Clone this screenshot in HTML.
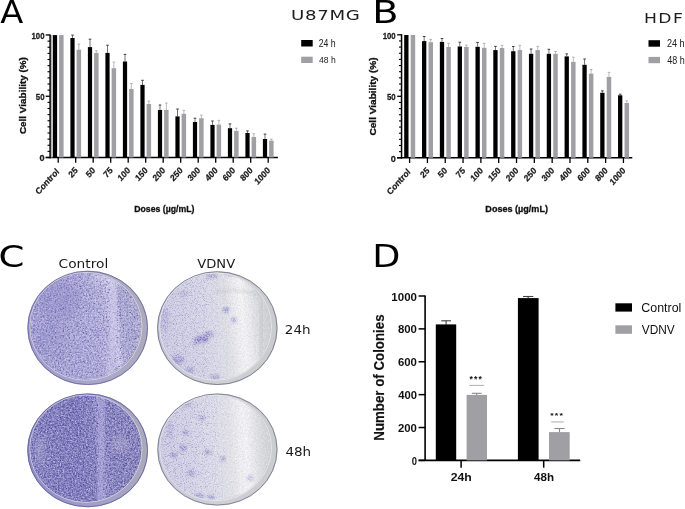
<!DOCTYPE html>
<html><head><meta charset="utf-8"><title>Figure</title>
<style>
html,body{margin:0;padding:0;background:#fff;}
body{width:685px;height:509px;overflow:hidden;}
svg{display:block;}
.xl{font-family:"Liberation Sans", Arial, sans-serif;font-size:9.2px;font-weight:bold;fill:#1a1a1a;stroke:#1a1a1a;stroke-width:0.25px;}
.tl{font-family:"Liberation Sans", Arial, sans-serif;font-size:8.6px;font-weight:bold;fill:#1a1a1a;}
.yt{font-family:"Liberation Sans", Arial, sans-serif;font-size:9.8px;font-weight:bold;fill:#111;}
.xt{font-family:"Liberation Sans", Arial, sans-serif;font-size:8.7px;font-weight:bold;fill:#111;}
.ttl{font-family:"DejaVu Sans", Verdana, sans-serif;font-size:14.5px;fill:#222;letter-spacing:1.6px;}
.lg{font-family:"Liberation Sans", Arial, sans-serif;font-size:8.6px;fill:#222;}
.pl{font-family:"Liberation Sans", Arial, sans-serif;font-size:32.5px;fill:#000;}
.cl{font-family:"DejaVu Sans", Verdana, sans-serif;font-size:12.6px;fill:#222;}
.dt{font-family:"Liberation Sans", Arial, sans-serif;font-size:11.4px;font-weight:bold;fill:#111;}
.dy{font-family:"Liberation Sans", Arial, sans-serif;font-size:13px;font-weight:bold;fill:#111;}
.ast{font-family:"Liberation Sans", Arial, sans-serif;font-size:9px;font-weight:bold;fill:#111;letter-spacing:0.2px;}
.dl{font-family:"Liberation Sans", Arial, sans-serif;font-size:12.4px;fill:#111;}
</style></head><body>
<svg width="685" height="509" viewBox="0 0 685 509">

<line x1="50.1" y1="34.4" x2="50.1" y2="158.2" stroke="#000" stroke-width="1.5"/>
<line x1="45.7" y1="157.5" x2="50.1" y2="157.5" stroke="#000" stroke-width="1.3"/>
<line x1="47.5" y1="151.38" x2="50.1" y2="151.38" stroke="#000" stroke-width="1.1"/>
<line x1="47.5" y1="145.25" x2="50.1" y2="145.25" stroke="#000" stroke-width="1.1"/>
<line x1="47.5" y1="139.12" x2="50.1" y2="139.12" stroke="#000" stroke-width="1.1"/>
<line x1="47.5" y1="133" x2="50.1" y2="133" stroke="#000" stroke-width="1.1"/>
<line x1="47.5" y1="126.88" x2="50.1" y2="126.88" stroke="#000" stroke-width="1.1"/>
<line x1="47.5" y1="120.75" x2="50.1" y2="120.75" stroke="#000" stroke-width="1.1"/>
<line x1="47.5" y1="114.62" x2="50.1" y2="114.62" stroke="#000" stroke-width="1.1"/>
<line x1="47.5" y1="108.5" x2="50.1" y2="108.5" stroke="#000" stroke-width="1.1"/>
<line x1="47.5" y1="102.38" x2="50.1" y2="102.38" stroke="#000" stroke-width="1.1"/>
<line x1="45.7" y1="96.25" x2="50.1" y2="96.25" stroke="#000" stroke-width="1.3"/>
<line x1="47.5" y1="90.12" x2="50.1" y2="90.12" stroke="#000" stroke-width="1.1"/>
<line x1="47.5" y1="84" x2="50.1" y2="84" stroke="#000" stroke-width="1.1"/>
<line x1="47.5" y1="77.88" x2="50.1" y2="77.88" stroke="#000" stroke-width="1.1"/>
<line x1="47.5" y1="71.75" x2="50.1" y2="71.75" stroke="#000" stroke-width="1.1"/>
<line x1="47.5" y1="65.62" x2="50.1" y2="65.62" stroke="#000" stroke-width="1.1"/>
<line x1="47.5" y1="59.5" x2="50.1" y2="59.5" stroke="#000" stroke-width="1.1"/>
<line x1="47.5" y1="53.37" x2="50.1" y2="53.37" stroke="#000" stroke-width="1.1"/>
<line x1="47.5" y1="47.25" x2="50.1" y2="47.25" stroke="#000" stroke-width="1.1"/>
<line x1="47.5" y1="41.12" x2="50.1" y2="41.12" stroke="#000" stroke-width="1.1"/>
<line x1="45.7" y1="35" x2="50.1" y2="35" stroke="#000" stroke-width="1.3"/>
<line x1="45.7" y1="157.5" x2="277.9" y2="157.5" stroke="#000" stroke-width="1.5"/>
<rect x="52.9" y="35.1" width="4.2" height="122.4" fill="#000"/>
<rect x="59.1" y="35.1" width="4.5" height="122.4" fill="#a09fa4"/>
<line x1="58.2" y1="157.5" x2="58.2" y2="162.7" stroke="#000" stroke-width="1.3"/>
<text transform="translate(59.6 172.1) scale(0.9 1) rotate(-45)" text-anchor="end" class="xl">Control</text>
<line x1="72.5" y1="35.1" x2="72.5" y2="38" stroke="#3a3a3a" stroke-width="0.7"/>
<line x1="71.2" y1="35.1" x2="73.8" y2="35.1" stroke="#2a2a2a" stroke-width="0.9"/>
<line x1="78.85" y1="44.2" x2="78.85" y2="49.7" stroke="#aaa" stroke-width="0.8"/>
<line x1="77.55" y1="44.2" x2="80.15" y2="44.2" stroke="#aaa" stroke-width="0.9"/>
<rect x="70.4" y="38" width="4.2" height="119.5" fill="#000"/>
<rect x="76.6" y="49.7" width="4.5" height="107.8" fill="#a09fa4"/>
<line x1="75.7" y1="157.5" x2="75.7" y2="162.7" stroke="#000" stroke-width="1.3"/>
<text transform="translate(78.3 170.9) scale(0.9 1) rotate(-45)" text-anchor="end" class="xl">25</text>
<line x1="90" y1="39.2" x2="90" y2="47.1" stroke="#3a3a3a" stroke-width="0.7"/>
<line x1="88.7" y1="39.2" x2="91.3" y2="39.2" stroke="#2a2a2a" stroke-width="0.9"/>
<line x1="96.35" y1="50.7" x2="96.35" y2="52.9" stroke="#aaa" stroke-width="0.8"/>
<line x1="95.05" y1="50.7" x2="97.65" y2="50.7" stroke="#aaa" stroke-width="0.9"/>
<rect x="87.9" y="47.1" width="4.2" height="110.4" fill="#000"/>
<rect x="94.1" y="52.9" width="4.5" height="104.6" fill="#a09fa4"/>
<line x1="93.2" y1="157.5" x2="93.2" y2="162.7" stroke="#000" stroke-width="1.3"/>
<text transform="translate(95.8 170.9) scale(0.9 1) rotate(-45)" text-anchor="end" class="xl">50</text>
<line x1="107.5" y1="45.2" x2="107.5" y2="52.9" stroke="#3a3a3a" stroke-width="0.7"/>
<line x1="106.2" y1="45.2" x2="108.8" y2="45.2" stroke="#2a2a2a" stroke-width="0.9"/>
<line x1="113.85" y1="62.1" x2="113.85" y2="68.2" stroke="#aaa" stroke-width="0.8"/>
<line x1="112.55" y1="62.1" x2="115.15" y2="62.1" stroke="#aaa" stroke-width="0.9"/>
<rect x="105.4" y="52.9" width="4.2" height="104.6" fill="#000"/>
<rect x="111.6" y="68.2" width="4.5" height="89.3" fill="#a09fa4"/>
<line x1="110.7" y1="157.5" x2="110.7" y2="162.7" stroke="#000" stroke-width="1.3"/>
<text transform="translate(113.3 170.9) scale(0.9 1) rotate(-45)" text-anchor="end" class="xl">75</text>
<line x1="125" y1="54.4" x2="125" y2="61.5" stroke="#3a3a3a" stroke-width="0.7"/>
<line x1="123.7" y1="54.4" x2="126.3" y2="54.4" stroke="#2a2a2a" stroke-width="0.9"/>
<line x1="131.35" y1="83.5" x2="131.35" y2="89" stroke="#aaa" stroke-width="0.8"/>
<line x1="130.05" y1="83.5" x2="132.65" y2="83.5" stroke="#aaa" stroke-width="0.9"/>
<rect x="122.9" y="61.5" width="4.2" height="96" fill="#000"/>
<rect x="129.1" y="89" width="4.5" height="68.5" fill="#a09fa4"/>
<line x1="128.2" y1="157.5" x2="128.2" y2="162.7" stroke="#000" stroke-width="1.3"/>
<text transform="translate(130.8 170.9) scale(0.9 1) rotate(-45)" text-anchor="end" class="xl">100</text>
<line x1="142.5" y1="80.3" x2="142.5" y2="84.9" stroke="#3a3a3a" stroke-width="0.7"/>
<line x1="141.2" y1="80.3" x2="143.8" y2="80.3" stroke="#2a2a2a" stroke-width="0.9"/>
<line x1="148.85" y1="101.1" x2="148.85" y2="104" stroke="#aaa" stroke-width="0.8"/>
<line x1="147.55" y1="101.1" x2="150.15" y2="101.1" stroke="#aaa" stroke-width="0.9"/>
<rect x="140.4" y="84.9" width="4.2" height="72.6" fill="#000"/>
<rect x="146.6" y="104" width="4.5" height="53.5" fill="#a09fa4"/>
<line x1="145.7" y1="157.5" x2="145.7" y2="162.7" stroke="#000" stroke-width="1.3"/>
<text transform="translate(148.3 170.9) scale(0.9 1) rotate(-45)" text-anchor="end" class="xl">150</text>
<line x1="160" y1="105" x2="160" y2="110" stroke="#3a3a3a" stroke-width="0.7"/>
<line x1="158.7" y1="105" x2="161.3" y2="105" stroke="#2a2a2a" stroke-width="0.9"/>
<line x1="166.35" y1="103.1" x2="166.35" y2="110" stroke="#aaa" stroke-width="0.8"/>
<line x1="165.05" y1="103.1" x2="167.65" y2="103.1" stroke="#aaa" stroke-width="0.9"/>
<rect x="157.9" y="110" width="4.2" height="47.5" fill="#000"/>
<rect x="164.1" y="110" width="4.5" height="47.5" fill="#a09fa4"/>
<line x1="163.2" y1="157.5" x2="163.2" y2="162.7" stroke="#000" stroke-width="1.3"/>
<text transform="translate(165.8 170.9) scale(0.9 1) rotate(-45)" text-anchor="end" class="xl">200</text>
<line x1="177.5" y1="109" x2="177.5" y2="116.4" stroke="#3a3a3a" stroke-width="0.7"/>
<line x1="176.2" y1="109" x2="178.8" y2="109" stroke="#2a2a2a" stroke-width="0.9"/>
<line x1="183.85" y1="110.4" x2="183.85" y2="113.8" stroke="#aaa" stroke-width="0.8"/>
<line x1="182.55" y1="110.4" x2="185.15" y2="110.4" stroke="#aaa" stroke-width="0.9"/>
<rect x="175.4" y="116.4" width="4.2" height="41.1" fill="#000"/>
<rect x="181.6" y="113.8" width="4.5" height="43.7" fill="#a09fa4"/>
<line x1="180.7" y1="157.5" x2="180.7" y2="162.7" stroke="#000" stroke-width="1.3"/>
<text transform="translate(183.3 170.9) scale(0.9 1) rotate(-45)" text-anchor="end" class="xl">250</text>
<line x1="195" y1="118.2" x2="195" y2="122" stroke="#3a3a3a" stroke-width="0.7"/>
<line x1="193.7" y1="118.2" x2="196.3" y2="118.2" stroke="#2a2a2a" stroke-width="0.9"/>
<line x1="201.35" y1="115.1" x2="201.35" y2="118.2" stroke="#aaa" stroke-width="0.8"/>
<line x1="200.05" y1="115.1" x2="202.65" y2="115.1" stroke="#aaa" stroke-width="0.9"/>
<rect x="192.9" y="122" width="4.2" height="35.5" fill="#000"/>
<rect x="199.1" y="118.2" width="4.5" height="39.3" fill="#a09fa4"/>
<line x1="198.2" y1="157.5" x2="198.2" y2="162.7" stroke="#000" stroke-width="1.3"/>
<text transform="translate(200.8 170.9) scale(0.9 1) rotate(-45)" text-anchor="end" class="xl">300</text>
<line x1="212.5" y1="121" x2="212.5" y2="124.9" stroke="#3a3a3a" stroke-width="0.7"/>
<line x1="211.2" y1="121" x2="213.8" y2="121" stroke="#2a2a2a" stroke-width="0.9"/>
<line x1="218.85" y1="120.4" x2="218.85" y2="124.6" stroke="#aaa" stroke-width="0.8"/>
<line x1="217.55" y1="120.4" x2="220.15" y2="120.4" stroke="#aaa" stroke-width="0.9"/>
<rect x="210.4" y="124.9" width="4.2" height="32.6" fill="#000"/>
<rect x="216.6" y="124.6" width="4.5" height="32.9" fill="#a09fa4"/>
<line x1="215.7" y1="157.5" x2="215.7" y2="162.7" stroke="#000" stroke-width="1.3"/>
<text transform="translate(218.3 170.9) scale(0.9 1) rotate(-45)" text-anchor="end" class="xl">400</text>
<line x1="230" y1="123.9" x2="230" y2="128.2" stroke="#3a3a3a" stroke-width="0.7"/>
<line x1="228.7" y1="123.9" x2="231.3" y2="123.9" stroke="#2a2a2a" stroke-width="0.9"/>
<line x1="236.35" y1="128.2" x2="236.35" y2="130.9" stroke="#aaa" stroke-width="0.8"/>
<line x1="235.05" y1="128.2" x2="237.65" y2="128.2" stroke="#aaa" stroke-width="0.9"/>
<rect x="227.9" y="128.2" width="4.2" height="29.3" fill="#000"/>
<rect x="234.1" y="130.9" width="4.5" height="26.6" fill="#a09fa4"/>
<line x1="233.2" y1="157.5" x2="233.2" y2="162.7" stroke="#000" stroke-width="1.3"/>
<text transform="translate(235.8 170.9) scale(0.9 1) rotate(-45)" text-anchor="end" class="xl">600</text>
<line x1="247.5" y1="130.9" x2="247.5" y2="133" stroke="#3a3a3a" stroke-width="0.7"/>
<line x1="246.2" y1="130.9" x2="248.8" y2="130.9" stroke="#2a2a2a" stroke-width="0.9"/>
<line x1="253.85" y1="133.8" x2="253.85" y2="137" stroke="#aaa" stroke-width="0.8"/>
<line x1="252.55" y1="133.8" x2="255.15" y2="133.8" stroke="#aaa" stroke-width="0.9"/>
<rect x="245.4" y="133" width="4.2" height="24.5" fill="#000"/>
<rect x="251.6" y="137" width="4.5" height="20.5" fill="#a09fa4"/>
<line x1="250.7" y1="157.5" x2="250.7" y2="162.7" stroke="#000" stroke-width="1.3"/>
<text transform="translate(253.3 170.9) scale(0.9 1) rotate(-45)" text-anchor="end" class="xl">800</text>
<line x1="265" y1="134.1" x2="265" y2="139" stroke="#3a3a3a" stroke-width="0.7"/>
<line x1="263.7" y1="134.1" x2="266.3" y2="134.1" stroke="#2a2a2a" stroke-width="0.9"/>
<line x1="271.35" y1="139.2" x2="271.35" y2="140.7" stroke="#aaa" stroke-width="0.8"/>
<line x1="270.05" y1="139.2" x2="272.65" y2="139.2" stroke="#aaa" stroke-width="0.9"/>
<rect x="262.9" y="139" width="4.2" height="18.5" fill="#000"/>
<rect x="269.1" y="140.7" width="4.5" height="16.8" fill="#a09fa4"/>
<line x1="268.2" y1="157.5" x2="268.2" y2="162.7" stroke="#000" stroke-width="1.3"/>
<text transform="translate(270.8 170.9) scale(0.9 1) rotate(-45)" text-anchor="end" class="xl">1000</text>
<rect x="301.2" y="40" width="11.5" height="6.5" fill="#000"/>
<rect x="301.2" y="56.7" width="11.5" height="6.3" fill="#a09fa4"/>
<rect x="51.1" y="35.1" width="1.5" height="122.4" fill="#b2b2b2"/>
<line x1="401.55" y1="34.2" x2="401.55" y2="158.5" stroke="#000" stroke-width="1.5"/>
<line x1="397.15" y1="157.8" x2="401.55" y2="157.8" stroke="#000" stroke-width="1.3"/>
<line x1="398.95" y1="151.65" x2="401.55" y2="151.65" stroke="#000" stroke-width="1.1"/>
<line x1="398.95" y1="145.5" x2="401.55" y2="145.5" stroke="#000" stroke-width="1.1"/>
<line x1="398.95" y1="139.35" x2="401.55" y2="139.35" stroke="#000" stroke-width="1.1"/>
<line x1="398.95" y1="133.2" x2="401.55" y2="133.2" stroke="#000" stroke-width="1.1"/>
<line x1="398.95" y1="127.05" x2="401.55" y2="127.05" stroke="#000" stroke-width="1.1"/>
<line x1="398.95" y1="120.9" x2="401.55" y2="120.9" stroke="#000" stroke-width="1.1"/>
<line x1="398.95" y1="114.75" x2="401.55" y2="114.75" stroke="#000" stroke-width="1.1"/>
<line x1="398.95" y1="108.6" x2="401.55" y2="108.6" stroke="#000" stroke-width="1.1"/>
<line x1="398.95" y1="102.45" x2="401.55" y2="102.45" stroke="#000" stroke-width="1.1"/>
<line x1="397.15" y1="96.3" x2="401.55" y2="96.3" stroke="#000" stroke-width="1.3"/>
<line x1="398.95" y1="90.15" x2="401.55" y2="90.15" stroke="#000" stroke-width="1.1"/>
<line x1="398.95" y1="84" x2="401.55" y2="84" stroke="#000" stroke-width="1.1"/>
<line x1="398.95" y1="77.85" x2="401.55" y2="77.85" stroke="#000" stroke-width="1.1"/>
<line x1="398.95" y1="71.7" x2="401.55" y2="71.7" stroke="#000" stroke-width="1.1"/>
<line x1="398.95" y1="65.55" x2="401.55" y2="65.55" stroke="#000" stroke-width="1.1"/>
<line x1="398.95" y1="59.4" x2="401.55" y2="59.4" stroke="#000" stroke-width="1.1"/>
<line x1="398.95" y1="53.25" x2="401.55" y2="53.25" stroke="#000" stroke-width="1.1"/>
<line x1="398.95" y1="47.1" x2="401.55" y2="47.1" stroke="#000" stroke-width="1.1"/>
<line x1="398.95" y1="40.95" x2="401.55" y2="40.95" stroke="#000" stroke-width="1.1"/>
<line x1="397.15" y1="34.8" x2="401.55" y2="34.8" stroke="#000" stroke-width="1.3"/>
<line x1="397.15" y1="157.8" x2="632.3" y2="157.8" stroke="#000" stroke-width="1.5"/>
<rect x="404.2" y="35" width="4.3" height="122.8" fill="#000"/>
<rect x="410.7" y="35" width="4.5" height="122.8" fill="#a09fa4"/>
<line x1="409.6" y1="157.8" x2="409.6" y2="163" stroke="#000" stroke-width="1.3"/>
<text transform="translate(411 172.4) scale(0.9 1) rotate(-45)" text-anchor="end" class="xl">Control</text>
<line x1="424.17" y1="36.5" x2="424.17" y2="41.1" stroke="#3a3a3a" stroke-width="0.7"/>
<line x1="422.87" y1="36.5" x2="425.47" y2="36.5" stroke="#2a2a2a" stroke-width="0.9"/>
<line x1="430.77" y1="39.4" x2="430.77" y2="42.2" stroke="#aaa" stroke-width="0.8"/>
<line x1="429.47" y1="39.4" x2="432.07" y2="39.4" stroke="#aaa" stroke-width="0.9"/>
<rect x="422.02" y="41.1" width="4.3" height="116.7" fill="#000"/>
<rect x="428.52" y="42.2" width="4.5" height="115.6" fill="#a09fa4"/>
<line x1="427.42" y1="157.8" x2="427.42" y2="163" stroke="#000" stroke-width="1.3"/>
<text transform="translate(430.02 171.2) scale(0.9 1) rotate(-45)" text-anchor="end" class="xl">25</text>
<line x1="441.99" y1="38.5" x2="441.99" y2="41.9" stroke="#3a3a3a" stroke-width="0.7"/>
<line x1="440.69" y1="38.5" x2="443.29" y2="38.5" stroke="#2a2a2a" stroke-width="0.9"/>
<line x1="448.59" y1="43.3" x2="448.59" y2="47" stroke="#aaa" stroke-width="0.8"/>
<line x1="447.29" y1="43.3" x2="449.89" y2="43.3" stroke="#aaa" stroke-width="0.9"/>
<rect x="439.84" y="41.9" width="4.3" height="115.9" fill="#000"/>
<rect x="446.34" y="47" width="4.5" height="110.8" fill="#a09fa4"/>
<line x1="445.24" y1="157.8" x2="445.24" y2="163" stroke="#000" stroke-width="1.3"/>
<text transform="translate(447.84 171.2) scale(0.9 1) rotate(-45)" text-anchor="end" class="xl">50</text>
<line x1="459.81" y1="42.2" x2="459.81" y2="46.5" stroke="#3a3a3a" stroke-width="0.7"/>
<line x1="458.51" y1="42.2" x2="461.11" y2="42.2" stroke="#2a2a2a" stroke-width="0.9"/>
<line x1="466.41" y1="45.2" x2="466.41" y2="47" stroke="#aaa" stroke-width="0.8"/>
<line x1="465.11" y1="45.2" x2="467.71" y2="45.2" stroke="#aaa" stroke-width="0.9"/>
<rect x="457.66" y="46.5" width="4.3" height="111.3" fill="#000"/>
<rect x="464.16" y="47" width="4.5" height="110.8" fill="#a09fa4"/>
<line x1="463.06" y1="157.8" x2="463.06" y2="163" stroke="#000" stroke-width="1.3"/>
<text transform="translate(465.66 171.2) scale(0.9 1) rotate(-45)" text-anchor="end" class="xl">75</text>
<line x1="477.63" y1="42.4" x2="477.63" y2="46.8" stroke="#3a3a3a" stroke-width="0.7"/>
<line x1="476.33" y1="42.4" x2="478.93" y2="42.4" stroke="#2a2a2a" stroke-width="0.9"/>
<line x1="484.23" y1="43.4" x2="484.23" y2="47.8" stroke="#aaa" stroke-width="0.8"/>
<line x1="482.93" y1="43.4" x2="485.53" y2="43.4" stroke="#aaa" stroke-width="0.9"/>
<rect x="475.48" y="46.8" width="4.3" height="111" fill="#000"/>
<rect x="481.98" y="47.8" width="4.5" height="110" fill="#a09fa4"/>
<line x1="480.88" y1="157.8" x2="480.88" y2="163" stroke="#000" stroke-width="1.3"/>
<text transform="translate(483.48 171.2) scale(0.9 1) rotate(-45)" text-anchor="end" class="xl">100</text>
<line x1="495.45" y1="46.4" x2="495.45" y2="50.1" stroke="#3a3a3a" stroke-width="0.7"/>
<line x1="494.15" y1="46.4" x2="496.75" y2="46.4" stroke="#2a2a2a" stroke-width="0.9"/>
<line x1="502.05" y1="45.3" x2="502.05" y2="48" stroke="#aaa" stroke-width="0.8"/>
<line x1="500.75" y1="45.3" x2="503.35" y2="45.3" stroke="#aaa" stroke-width="0.9"/>
<rect x="493.3" y="50.1" width="4.3" height="107.7" fill="#000"/>
<rect x="499.8" y="48" width="4.5" height="109.8" fill="#a09fa4"/>
<line x1="498.7" y1="157.8" x2="498.7" y2="163" stroke="#000" stroke-width="1.3"/>
<text transform="translate(501.3 171.2) scale(0.9 1) rotate(-45)" text-anchor="end" class="xl">150</text>
<line x1="513.27" y1="46.5" x2="513.27" y2="51.2" stroke="#3a3a3a" stroke-width="0.7"/>
<line x1="511.97" y1="46.5" x2="514.57" y2="46.5" stroke="#2a2a2a" stroke-width="0.9"/>
<line x1="519.87" y1="45.3" x2="519.87" y2="50" stroke="#aaa" stroke-width="0.8"/>
<line x1="518.57" y1="45.3" x2="521.17" y2="45.3" stroke="#aaa" stroke-width="0.9"/>
<rect x="511.12" y="51.2" width="4.3" height="106.6" fill="#000"/>
<rect x="517.62" y="50" width="4.5" height="107.8" fill="#a09fa4"/>
<line x1="516.52" y1="157.8" x2="516.52" y2="163" stroke="#000" stroke-width="1.3"/>
<text transform="translate(519.12 171.2) scale(0.9 1) rotate(-45)" text-anchor="end" class="xl">200</text>
<line x1="531.09" y1="49" x2="531.09" y2="53.8" stroke="#3a3a3a" stroke-width="0.7"/>
<line x1="529.79" y1="49" x2="532.39" y2="49" stroke="#2a2a2a" stroke-width="0.9"/>
<line x1="537.69" y1="46.4" x2="537.69" y2="50.1" stroke="#aaa" stroke-width="0.8"/>
<line x1="536.39" y1="46.4" x2="538.99" y2="46.4" stroke="#aaa" stroke-width="0.9"/>
<rect x="528.94" y="53.8" width="4.3" height="104" fill="#000"/>
<rect x="535.44" y="50.1" width="4.5" height="107.7" fill="#a09fa4"/>
<line x1="534.34" y1="157.8" x2="534.34" y2="163" stroke="#000" stroke-width="1.3"/>
<text transform="translate(536.94 171.2) scale(0.9 1) rotate(-45)" text-anchor="end" class="xl">250</text>
<line x1="548.91" y1="49.3" x2="548.91" y2="53.8" stroke="#3a3a3a" stroke-width="0.7"/>
<line x1="547.61" y1="49.3" x2="550.21" y2="49.3" stroke="#2a2a2a" stroke-width="0.9"/>
<line x1="555.51" y1="51.5" x2="555.51" y2="53.8" stroke="#aaa" stroke-width="0.8"/>
<line x1="554.21" y1="51.5" x2="556.81" y2="51.5" stroke="#aaa" stroke-width="0.9"/>
<rect x="546.76" y="53.8" width="4.3" height="104" fill="#000"/>
<rect x="553.26" y="53.8" width="4.5" height="104" fill="#a09fa4"/>
<line x1="552.16" y1="157.8" x2="552.16" y2="163" stroke="#000" stroke-width="1.3"/>
<text transform="translate(554.76 171.2) scale(0.9 1) rotate(-45)" text-anchor="end" class="xl">300</text>
<line x1="566.73" y1="53.9" x2="566.73" y2="56.4" stroke="#3a3a3a" stroke-width="0.7"/>
<line x1="565.43" y1="53.9" x2="568.03" y2="53.9" stroke="#2a2a2a" stroke-width="0.9"/>
<line x1="573.33" y1="57.2" x2="573.33" y2="61.9" stroke="#aaa" stroke-width="0.8"/>
<line x1="572.03" y1="57.2" x2="574.63" y2="57.2" stroke="#aaa" stroke-width="0.9"/>
<rect x="564.58" y="56.4" width="4.3" height="101.4" fill="#000"/>
<rect x="571.08" y="61.9" width="4.5" height="95.9" fill="#a09fa4"/>
<line x1="569.98" y1="157.8" x2="569.98" y2="163" stroke="#000" stroke-width="1.3"/>
<text transform="translate(572.58 171.2) scale(0.9 1) rotate(-45)" text-anchor="end" class="xl">400</text>
<line x1="584.55" y1="59" x2="584.55" y2="64.8" stroke="#3a3a3a" stroke-width="0.7"/>
<line x1="583.25" y1="59" x2="585.85" y2="59" stroke="#2a2a2a" stroke-width="0.9"/>
<line x1="591.15" y1="69.5" x2="591.15" y2="73.6" stroke="#aaa" stroke-width="0.8"/>
<line x1="589.85" y1="69.5" x2="592.45" y2="69.5" stroke="#aaa" stroke-width="0.9"/>
<rect x="582.4" y="64.8" width="4.3" height="93" fill="#000"/>
<rect x="588.9" y="73.6" width="4.5" height="84.2" fill="#a09fa4"/>
<line x1="587.8" y1="157.8" x2="587.8" y2="163" stroke="#000" stroke-width="1.3"/>
<text transform="translate(590.4 171.2) scale(0.9 1) rotate(-45)" text-anchor="end" class="xl">600</text>
<line x1="602.37" y1="90.9" x2="602.37" y2="92.8" stroke="#3a3a3a" stroke-width="0.7"/>
<line x1="601.07" y1="90.9" x2="603.67" y2="90.9" stroke="#2a2a2a" stroke-width="0.9"/>
<line x1="608.97" y1="72.4" x2="608.97" y2="76.9" stroke="#aaa" stroke-width="0.8"/>
<line x1="607.67" y1="72.4" x2="610.27" y2="72.4" stroke="#aaa" stroke-width="0.9"/>
<rect x="600.22" y="92.8" width="4.3" height="65" fill="#000"/>
<rect x="606.72" y="76.9" width="4.5" height="80.9" fill="#a09fa4"/>
<line x1="605.62" y1="157.8" x2="605.62" y2="163" stroke="#000" stroke-width="1.3"/>
<text transform="translate(608.22 171.2) scale(0.9 1) rotate(-45)" text-anchor="end" class="xl">800</text>
<line x1="620.19" y1="94.2" x2="620.19" y2="95.3" stroke="#3a3a3a" stroke-width="0.7"/>
<line x1="618.89" y1="94.2" x2="621.49" y2="94.2" stroke="#2a2a2a" stroke-width="0.9"/>
<line x1="626.79" y1="100.9" x2="626.79" y2="103" stroke="#aaa" stroke-width="0.8"/>
<line x1="625.49" y1="100.9" x2="628.09" y2="100.9" stroke="#aaa" stroke-width="0.9"/>
<rect x="618.04" y="95.3" width="4.3" height="62.5" fill="#000"/>
<rect x="624.54" y="103" width="4.5" height="54.8" fill="#a09fa4"/>
<line x1="623.44" y1="157.8" x2="623.44" y2="163" stroke="#000" stroke-width="1.3"/>
<text transform="translate(626.04 171.2) scale(0.9 1) rotate(-45)" text-anchor="end" class="xl">1000</text>
<rect x="648.5" y="40.2" width="11.5" height="6.5" fill="#000"/>
<rect x="648.5" y="56.9" width="11.5" height="6.3" fill="#a09fa4"/>
<defs>
<filter id="txA" x="0" y="0" width="100%" height="100%" color-interpolation-filters="sRGB"><feTurbulence type="fractalNoise" baseFrequency="0.6" numOctaves="2" seed="3" result="n"/><feColorMatrix in="n" type="matrix" values="1 0 0 0 0  1 0 0 0 0  0.7 0 0 0 0.15  0 0 0 0 1" result="g0"/><feGaussianBlur in="g0" stdDeviation="0.4" result="g"/><feComposite in="SourceGraphic" in2="g" operator="arithmetic" k1="0" k2="1" k3="0.38" k4="-0.19" result="r"/><feComposite in="r" in2="SourceGraphic" operator="in"/></filter>
<filter id="spA" x="0" y="0" width="100%" height="100%" color-interpolation-filters="sRGB"><feTurbulence type="fractalNoise" baseFrequency="0.65" numOctaves="2" seed="31"/><feColorMatrix type="matrix" values="0 0 0 0 0.39  0 0 0 0 0.37  0 0 0 0 0.69  -3.2 0 0 0 1.5"/><feGaussianBlur stdDeviation="0.45"/><feComposite in2="SourceGraphic" operator="in"/></filter>
<filter id="spB" x="0" y="0" width="100%" height="100%" color-interpolation-filters="sRGB"><feTurbulence type="fractalNoise" baseFrequency="0.65" numOctaves="2" seed="37"/><feColorMatrix type="matrix" values="0 0 0 0 0.31  0 0 0 0 0.29  0 0 0 0 0.61  -3.4 0 0 0 1.68"/><feGaussianBlur stdDeviation="0.5"/><feComposite in2="SourceGraphic" operator="in"/></filter>
<filter id="ltB" x="0" y="0" width="100%" height="100%" color-interpolation-filters="sRGB"><feTurbulence type="fractalNoise" baseFrequency="0.65" numOctaves="2" seed="41"/><feColorMatrix type="matrix" values="0 0 0 0 0.75  0 0 0 0 0.74  0 0 0 0 0.87  -3.4 0 0 0 1.55"/><feGaussianBlur stdDeviation="0.5"/><feComposite in2="SourceGraphic" operator="in"/></filter>
<filter id="ltA" x="0" y="0" width="100%" height="100%" color-interpolation-filters="sRGB"><feTurbulence type="fractalNoise" baseFrequency="0.65" numOctaves="2" seed="43"/><feColorMatrix type="matrix" values="0 0 0 0 0.8  0 0 0 0 0.8  0 0 0 0 0.91  -3.4 0 0 0 1.55"/><feGaussianBlur stdDeviation="0.4"/><feComposite in2="SourceGraphic" operator="in"/></filter>
<filter id="txB" x="0" y="0" width="100%" height="100%" color-interpolation-filters="sRGB"><feTurbulence type="fractalNoise" baseFrequency="0.6" numOctaves="2" seed="8" result="n"/><feColorMatrix in="n" type="matrix" values="1 0 0 0 0  1 0 0 0 0  0.7 0 0 0 0.15  0 0 0 0 1" result="g0"/><feGaussianBlur in="g0" stdDeviation="0.5" result="g"/><feComposite in="SourceGraphic" in2="g" operator="arithmetic" k1="0" k2="1" k3="0.45" k4="-0.23" result="r"/><feComposite in="r" in2="SourceGraphic" operator="in"/></filter>
<filter id="txC" x="0" y="0" width="100%" height="100%" color-interpolation-filters="sRGB"><feTurbulence type="fractalNoise" baseFrequency="0.6" numOctaves="2" seed="13" result="n"/><feColorMatrix in="n" type="matrix" values="1 0 0 0 0  1 0 0 0 0  0.85 0 0 0 0.08  0 0 0 0 1" result="g0"/><feGaussianBlur in="g0" stdDeviation="0.4" result="g"/><feComposite in="SourceGraphic" in2="g" operator="arithmetic" k1="0" k2="1" k3="0.12" k4="-0.06" result="r"/><feComposite in="r" in2="SourceGraphic" operator="in"/></filter>
<filter id="spC" x="0" y="0" width="100%" height="100%" color-interpolation-filters="sRGB"><feTurbulence type="fractalNoise" baseFrequency="0.9" numOctaves="2" seed="21"/><feColorMatrix type="matrix" values="0 0 0 0 0.57  0 0 0 0 0.55  0 0 0 0 0.78  -3.0 0 0 0 1.42"/><feGaussianBlur stdDeviation="0.45"/><feComposite in2="SourceGraphic" operator="in"/></filter>
<filter id="spD" x="0" y="0" width="100%" height="100%" color-interpolation-filters="sRGB"><feTurbulence type="fractalNoise" baseFrequency="0.9" numOctaves="2" seed="27"/><feColorMatrix type="matrix" values="0 0 0 0 0.57  0 0 0 0 0.55  0 0 0 0 0.78  -3.0 0 0 0 1.42"/><feGaussianBlur stdDeviation="0.45"/><feComposite in2="SourceGraphic" operator="in"/></filter>
<filter id="spX" x="0" y="0" width="100%" height="100%" color-interpolation-filters="sRGB"><feTurbulence type="fractalNoise" baseFrequency="0.8" numOctaves="2" seed="51"/><feColorMatrix type="matrix" values="0 0 0 0 0.41  0 0 0 0 0.38  0 0 0 0 0.71  -3.0 0 0 0 2.0"/><feGaussianBlur stdDeviation="0.35"/><feComposite in2="SourceGraphic" operator="in"/></filter>
<filter id="blob" x="-50%" y="-50%" width="200%" height="200%"><feGaussianBlur stdDeviation="1.5"/></filter>
<filter id="bl2" x="-50%" y="-50%" width="200%" height="200%"><feGaussianBlur stdDeviation="2.2"/></filter>
<filter id="bl4" x="-50%" y="-50%" width="200%" height="200%"><feGaussianBlur stdDeviation="4"/></filter>
<linearGradient id="gTL" gradientUnits="userSpaceOnUse" x1="30" y1="326" x2="141" y2="314"><stop offset="0.000" stop-color="#a4a1d2"/><stop offset="0.270" stop-color="#a8a5d4"/><stop offset="0.586" stop-color="#aeabd7"/><stop offset="0.685" stop-color="#b7b4db"/><stop offset="0.748" stop-color="#c8c6e5"/><stop offset="0.784" stop-color="#c0bde1"/><stop offset="0.820" stop-color="#adaad3"/><stop offset="1.000" stop-color="#adabcf"/></linearGradient>
<linearGradient id="gBL" gradientUnits="userSpaceOnUse" x1="30" y1="449" x2="142" y2="443"><stop offset="0.000" stop-color="#8a86c3"/><stop offset="0.446" stop-color="#8581c0"/><stop offset="0.571" stop-color="#8b87c3"/><stop offset="0.625" stop-color="#a4a0d4"/><stop offset="0.679" stop-color="#938fc8"/><stop offset="0.732" stop-color="#8c88c1"/><stop offset="1.000" stop-color="#918dc2"/></linearGradient>
<linearGradient id="gTR" gradientUnits="userSpaceOnUse" x1="160" y1="327" x2="272" y2="317"><stop offset="0.000" stop-color="#cfcde3"/><stop offset="0.268" stop-color="#d5d3e5"/><stop offset="0.482" stop-color="#dbdae7"/><stop offset="0.607" stop-color="#e0e0e5"/><stop offset="0.679" stop-color="#ececef"/><stop offset="0.741" stop-color="#f2f2f3"/><stop offset="0.804" stop-color="#e9e9eb"/><stop offset="0.875" stop-color="#dadbdd"/><stop offset="0.946" stop-color="#d1d2d4"/><stop offset="1.000" stop-color="#cdced0"/></linearGradient>
<linearGradient id="gBR" gradientUnits="userSpaceOnUse" x1="160" y1="448" x2="272" y2="442"><stop offset="0.000" stop-color="#d0cfe4"/><stop offset="0.268" stop-color="#d6d5e6"/><stop offset="0.482" stop-color="#dddce8"/><stop offset="0.625" stop-color="#e2e2e6"/><stop offset="0.705" stop-color="#ededf0"/><stop offset="0.768" stop-color="#f2f2f3"/><stop offset="0.830" stop-color="#e8e8ea"/><stop offset="0.893" stop-color="#dbdcde"/><stop offset="1.000" stop-color="#d0d1d3"/></linearGradient>
<linearGradient id="rTL" x1="0" y1="0" x2="1" y2="0"><stop offset="0" stop-color="#9e9ace"/><stop offset="0.5" stop-color="#a8a6cc"/><stop offset="1" stop-color="#ababbd"/></linearGradient>
<linearGradient id="rBL" x1="0" y1="0" x2="1" y2="0"><stop offset="0" stop-color="#908cca"/><stop offset="0.5" stop-color="#a09dcc"/><stop offset="1" stop-color="#a9a9bd"/></linearGradient>
<linearGradient id="rTR" x1="0" y1="0" x2="1" y2="0"><stop offset="0" stop-color="#c6c5d8"/><stop offset="0.5" stop-color="#cfcfd6"/><stop offset="1" stop-color="#cacbce"/></linearGradient>
<linearGradient id="rBR" x1="0" y1="0" x2="1" y2="0"><stop offset="0" stop-color="#c8c7d9"/><stop offset="0.5" stop-color="#d0d0d7"/><stop offset="1" stop-color="#cbcccf"/></linearGradient>
<linearGradient id="mskL" x1="0" y1="0" x2="1" y2="0"><stop offset="0" stop-color="#fff"/><stop offset="0.4" stop-color="#fff" stop-opacity="0.8"/><stop offset="0.6" stop-color="#fff" stop-opacity="0.25"/><stop offset="1" stop-color="#fff" stop-opacity="0.1"/></linearGradient>
<mask id="mL" maskContentUnits="objectBoundingBox"><rect x="0" y="0" width="1" height="1" fill="url(#mskL)"/></mask>
<clipPath id="clTL"><ellipse cx="85.95" cy="326.3" rx="55.55" ry="53.4"/></clipPath>
<clipPath id="clTR"><ellipse cx="215.55" cy="326.55" rx="55.45" ry="53.15"/></clipPath>
<clipPath id="clBL"><ellipse cx="85.9" cy="448.75" rx="55.6" ry="53.15"/></clipPath>
<clipPath id="clBR"><ellipse cx="215.65" cy="447.9" rx="55.35" ry="52.3"/></clipPath>
</defs>
<ellipse cx="87.7" cy="327.9" rx="60.3" ry="57.1" fill="url(#rTL)"/>
<ellipse cx="87.7" cy="327.9" rx="59.85" ry="56.65" fill="none" stroke="#6f6c9e" stroke-width="0.9"/>
<ellipse cx="85.95" cy="326.3" rx="55.55" ry="53.4" fill="url(#gTL)" filter="url(#txA)"/>
<ellipse cx="85.95" cy="326.3" rx="55.35" ry="53.2" fill="#000" filter="url(#spA)"/>
<ellipse cx="85.95" cy="326.3" rx="55.35" ry="53.2" fill="#000" filter="url(#ltA)"/>
<g clip-path="url(#clTL)">
<ellipse cx="60" cy="300" rx="22" ry="20" fill="#7f7ac0" opacity="0.25" filter="url(#bl4)"/>
<ellipse cx="50" cy="340" rx="14" ry="18" fill="#7f7ac0" opacity="0.15" filter="url(#bl4)"/>
</g>
<g clip-path="url(#clTL)"><path d="M90 276 L110 278 L130 285" stroke="#ffffff" stroke-width="10" fill="none" opacity="0.25" filter="url(#bl4)"/></g>
<g clip-path="url(#clTL)"><path d="M114 272 L114 300 L113 330 L111 360 L108 386" stroke="#cdcbe9" stroke-width="6" fill="none" opacity="0.55" filter="url(#blob)"/></g>
<ellipse cx="85.95" cy="326.3" rx="56.05" ry="53.9" fill="none" stroke="#fff" stroke-width="0.9" opacity="0.55"/>
<ellipse cx="87.65" cy="450.35" rx="60.35" ry="56.85" fill="url(#rBL)"/>
<ellipse cx="87.65" cy="450.35" rx="59.9" ry="56.4" fill="none" stroke="#66639c" stroke-width="0.9"/>
<ellipse cx="85.9" cy="448.75" rx="55.6" ry="53.15" fill="url(#gBL)" filter="url(#txB)"/>
<ellipse cx="85.9" cy="448.75" rx="55.4" ry="52.95" fill="#000" filter="url(#spB)"/>
<ellipse cx="85.9" cy="448.75" rx="55.4" ry="52.95" fill="#000" filter="url(#ltB)"/>
<g clip-path="url(#clBL)">
<ellipse cx="120" cy="444" rx="9" ry="8" fill="#c4c2dc" opacity="0.35" filter="url(#bl2)"/>
<ellipse cx="40" cy="450" rx="5" ry="14" fill="#c4c2dc" opacity="0.3" filter="url(#bl2)"/>
</g>
<g clip-path="url(#clBL)"><path d="M103 395 L102 430 L101 465 L99 506" stroke="#b4b0e0" stroke-width="6" fill="none" opacity="0.5" filter="url(#blob)"/></g>
<ellipse cx="85.9" cy="448.75" rx="56.1" ry="53.65" fill="none" stroke="#fff" stroke-width="0.9" opacity="0.55"/>
<ellipse cx="217.3" cy="328.15" rx="60.2" ry="56.85" fill="url(#rTR)"/>
<ellipse cx="217.3" cy="328.15" rx="59.75" ry="56.4" fill="none" stroke="#77778c" stroke-width="0.9"/>
<ellipse cx="215.55" cy="326.55" rx="55.45" ry="53.15" fill="url(#gTR)" filter="url(#txC)"/>
<ellipse cx="215.55" cy="326.55" rx="55.25" ry="52.95" fill="#000" filter="url(#spC)" mask="url(#mL)"/>
<g clip-path="url(#clTR)"><path d="M262 300 L262 330 L260 360" stroke="#b8b9bd" stroke-width="8" fill="none" opacity="0.35" filter="url(#bl4)"/></g>
<g clip-path="url(#clTR)"><path d="M215 292 L235 290 L255 293 L270 300" stroke="#8d8d95" stroke-width="1.0" fill="none" opacity="0.45" filter="url(#blob)"/></g>
<mask id="mbTR"><g filter="url(#blob)">
<ellipse cx="202" cy="339" rx="7" ry="3.2" fill="#fff" opacity="0.96"/>
<ellipse cx="209" cy="334" rx="4" ry="2.5" fill="#fff" opacity="0.80"/>
<ellipse cx="196" cy="342" rx="3" ry="2" fill="#fff" opacity="0.72"/>
<ellipse cx="226" cy="310" rx="3" ry="2.4" fill="#fff" opacity="0.80"/>
<ellipse cx="234" cy="320" rx="2.6" ry="2.2" fill="#fff" opacity="0.72"/>
<ellipse cx="183" cy="294" rx="5" ry="3" fill="#fff" opacity="0.24"/>
<ellipse cx="165" cy="320" rx="4" ry="12" fill="#fff" opacity="0.22"/>
<ellipse cx="178" cy="360" rx="6" ry="4" fill="#fff" opacity="0.56"/>
<ellipse cx="190" cy="370" rx="4" ry="3" fill="#fff" opacity="0.48"/>
<ellipse cx="215" cy="377" rx="5" ry="2" fill="#fff" opacity="0.56"/>
<ellipse cx="212" cy="276" rx="6" ry="2" fill="#fff" opacity="0.56"/>
<ellipse cx="230" cy="274" rx="4" ry="2" fill="#fff" opacity="0.48"/>
</g></mask>
<ellipse cx="215.55" cy="326.55" rx="55.25" ry="52.95" fill="#000" filter="url(#spX)" mask="url(#mbTR)"/>
<g clip-path="url(#clTR)">
<ellipse cx="202" cy="339" rx="7" ry="3.2" fill="#8a84cc" opacity="0.27" filter="url(#blob)"/>
<ellipse cx="209" cy="334" rx="4" ry="2.5" fill="#8a84cc" opacity="0.225" filter="url(#blob)"/>
<ellipse cx="196" cy="342" rx="3" ry="2" fill="#8a84cc" opacity="0.2025" filter="url(#blob)"/>
<ellipse cx="226" cy="310" rx="3" ry="2.4" fill="#8a84cc" opacity="0.225" filter="url(#blob)"/>
<ellipse cx="234" cy="320" rx="2.6" ry="2.2" fill="#8a84cc" opacity="0.2025" filter="url(#blob)"/>
<ellipse cx="183" cy="294" rx="5" ry="3" fill="#8a84cc" opacity="0.0675" filter="url(#blob)"/>
<ellipse cx="165" cy="320" rx="4" ry="12" fill="#8a84cc" opacity="0.06300000000000001" filter="url(#blob)"/>
<ellipse cx="178" cy="360" rx="6" ry="4" fill="#8a84cc" opacity="0.1575" filter="url(#blob)"/>
<ellipse cx="190" cy="370" rx="4" ry="3" fill="#8a84cc" opacity="0.135" filter="url(#blob)"/>
<ellipse cx="215" cy="377" rx="5" ry="2" fill="#8a84cc" opacity="0.1575" filter="url(#blob)"/>
<ellipse cx="212" cy="276" rx="6" ry="2" fill="#8a84cc" opacity="0.1575" filter="url(#blob)"/>
<ellipse cx="230" cy="274" rx="4" ry="2" fill="#8a84cc" opacity="0.135" filter="url(#blob)"/>
</g>
<ellipse cx="215.55" cy="326.55" rx="55.95" ry="53.65" fill="none" stroke="#fff" stroke-width="0.9" opacity="0.55"/>
<ellipse cx="217.4" cy="449.5" rx="60.1" ry="56" fill="url(#rBR)"/>
<ellipse cx="217.4" cy="449.5" rx="59.65" ry="55.55" fill="none" stroke="#7a7a8e" stroke-width="0.9"/>
<ellipse cx="215.65" cy="447.9" rx="55.35" ry="52.3" fill="url(#gBR)" filter="url(#txC)"/>
<ellipse cx="215.65" cy="447.9" rx="55.15" ry="52.1" fill="#000" filter="url(#spD)" mask="url(#mL)"/>
<mask id="mbBR"><g filter="url(#blob)">
<ellipse cx="183" cy="448" rx="3" ry="2.4" fill="#fff" opacity="0.80"/>
<ellipse cx="174" cy="455" rx="3" ry="2.5" fill="#fff" opacity="0.72"/>
<ellipse cx="207.6" cy="452" rx="3" ry="2" fill="#fff" opacity="0.72"/>
<ellipse cx="222.8" cy="459" rx="2.6" ry="2.2" fill="#fff" opacity="0.72"/>
<ellipse cx="191" cy="473" rx="3" ry="2.4" fill="#fff" opacity="0.72"/>
<ellipse cx="199.4" cy="496" rx="4" ry="2" fill="#fff" opacity="0.64"/>
<ellipse cx="211" cy="497.5" rx="3" ry="2" fill="#fff" opacity="0.64"/>
<ellipse cx="185.4" cy="432" rx="3" ry="2" fill="#fff" opacity="0.64"/>
<ellipse cx="201.7" cy="418" rx="3" ry="2" fill="#fff" opacity="0.64"/>
<ellipse cx="170" cy="430" rx="3" ry="10" fill="#fff" opacity="0.22"/>
<ellipse cx="185" cy="405" rx="8" ry="3" fill="#fff" opacity="0.26"/>
<ellipse cx="250" cy="478" rx="3" ry="3" fill="#fff" opacity="0.40"/>
</g></mask>
<ellipse cx="215.65" cy="447.9" rx="55.15" ry="52.1" fill="#000" filter="url(#spX)" mask="url(#mbBR)"/>
<g clip-path="url(#clBR)">
<ellipse cx="183" cy="448" rx="3" ry="2.4" fill="#8a84cc" opacity="0.225" filter="url(#blob)"/>
<ellipse cx="174" cy="455" rx="3" ry="2.5" fill="#8a84cc" opacity="0.2025" filter="url(#blob)"/>
<ellipse cx="207.6" cy="452" rx="3" ry="2" fill="#8a84cc" opacity="0.2025" filter="url(#blob)"/>
<ellipse cx="222.8" cy="459" rx="2.6" ry="2.2" fill="#8a84cc" opacity="0.2025" filter="url(#blob)"/>
<ellipse cx="191" cy="473" rx="3" ry="2.4" fill="#8a84cc" opacity="0.2025" filter="url(#blob)"/>
<ellipse cx="199.4" cy="496" rx="4" ry="2" fill="#8a84cc" opacity="0.18000000000000002" filter="url(#blob)"/>
<ellipse cx="211" cy="497.5" rx="3" ry="2" fill="#8a84cc" opacity="0.18000000000000002" filter="url(#blob)"/>
<ellipse cx="185.4" cy="432" rx="3" ry="2" fill="#8a84cc" opacity="0.18000000000000002" filter="url(#blob)"/>
<ellipse cx="201.7" cy="418" rx="3" ry="2" fill="#8a84cc" opacity="0.18000000000000002" filter="url(#blob)"/>
<ellipse cx="170" cy="430" rx="3" ry="10" fill="#8a84cc" opacity="0.06300000000000001" filter="url(#blob)"/>
<ellipse cx="185" cy="405" rx="8" ry="3" fill="#8a84cc" opacity="0.07200000000000001" filter="url(#blob)"/>
<ellipse cx="250" cy="478" rx="3" ry="3" fill="#8a84cc" opacity="0.1125" filter="url(#blob)"/>
</g>
<ellipse cx="215.65" cy="447.9" rx="55.85" ry="52.8" fill="none" stroke="#fff" stroke-width="0.9" opacity="0.55"/>
<line x1="425.1" y1="295.4" x2="425.1" y2="461" stroke="#000" stroke-width="1.6"/>
<line x1="418.6" y1="460.4" x2="425.1" y2="460.4" stroke="#000" stroke-width="1.5"/>
<line x1="418.6" y1="427.52" x2="425.1" y2="427.52" stroke="#000" stroke-width="1.5"/>
<line x1="418.6" y1="394.64" x2="425.1" y2="394.64" stroke="#000" stroke-width="1.5"/>
<line x1="418.6" y1="361.76" x2="425.1" y2="361.76" stroke="#000" stroke-width="1.5"/>
<line x1="418.6" y1="328.88" x2="425.1" y2="328.88" stroke="#000" stroke-width="1.5"/>
<line x1="418.6" y1="296" x2="425.1" y2="296" stroke="#000" stroke-width="1.5"/>
<line x1="418.6" y1="460.4" x2="580.2" y2="460.4" stroke="#000" stroke-width="1.6"/>
<line x1="461.1" y1="460.4" x2="461.1" y2="467.7" stroke="#000" stroke-width="1.5"/>
<line x1="543.7" y1="460.4" x2="543.7" y2="467.7" stroke="#000" stroke-width="1.5"/>
<line x1="446.1" y1="320.8" x2="446.1" y2="324.4" stroke="#444" stroke-width="1.1"/>
<line x1="441.2" y1="320.8" x2="451" y2="320.8" stroke="#444" stroke-width="1.1"/>
<rect x="435.8" y="324.4" width="20.4" height="136" fill="#000"/>
<line x1="476.7" y1="393.3" x2="476.7" y2="394.9" stroke="#888" stroke-width="1.1"/>
<line x1="471.8" y1="393.3" x2="481.6" y2="393.3" stroke="#888" stroke-width="1.1"/>
<rect x="466.6" y="394.9" width="20.4" height="65.5" fill="#a09fa4"/>
<line x1="528.15" y1="296.5" x2="528.15" y2="298.1" stroke="#444" stroke-width="1.1"/>
<line x1="523" y1="296.5" x2="533.3" y2="296.5" stroke="#444" stroke-width="1.1"/>
<rect x="517.9" y="298.1" width="20.7" height="162.3" fill="#000"/>
<line x1="559.5" y1="428.5" x2="559.5" y2="432.1" stroke="#888" stroke-width="1.1"/>
<line x1="554.4" y1="428.5" x2="564.6" y2="428.5" stroke="#888" stroke-width="1.1"/>
<rect x="549" y="432.1" width="20.7" height="28.3" fill="#a09fa4"/>
<line x1="469.2" y1="385.4" x2="484.2" y2="385.4" stroke="#b8b8b8" stroke-width="1.1"/>
<line x1="551.2" y1="421.9" x2="563.8" y2="421.9" stroke="#c4c4c4" stroke-width="1.4"/>
<rect x="615.4" y="303.3" width="16.6" height="8.3" fill="#000"/>
<rect x="615.4" y="325.3" width="16.6" height="8.5" fill="#a09fa4"/>
<text transform="translate(0.34 22.70) scale(1.0526 1.0053)" style="font-family:'DejaVu Sans', Verdana, sans-serif;font-size:32px;font-weight:normal;fill:#000;">A</text>
<text transform="translate(372.15 22.60) scale(1.2000 0.9957)" style="font-family:'DejaVu Sans', Verdana, sans-serif;font-size:32px;font-weight:normal;fill:#000;">B</text>
<text transform="translate(-1.43 266.82) scale(1.1603 0.9600)" style="font-family:'DejaVu Sans', Verdana, sans-serif;font-size:32px;font-weight:normal;fill:#000;">C</text>
<text transform="translate(372.33 266.70) scale(1.1414 0.9745)" style="font-family:'DejaVu Sans', Verdana, sans-serif;font-size:32px;font-weight:normal;fill:#000;">D</text>
<text transform="translate(290.89 20.46) scale(1.2110 0.9758)" style="font-family:'DejaVu Sans', Verdana, sans-serif;font-size:15px;font-weight:normal;fill:#1e1e1e;letter-spacing:0.6px;">U87MG</text>
<text transform="translate(644.08 22.80) scale(1.1460 0.9455)" style="font-family:'DejaVu Sans', Verdana, sans-serif;font-size:15px;font-weight:normal;fill:#1e1e1e;letter-spacing:1.2px;">HDF</text>
<text transform="translate(318.71 47.00) scale(0.9710 1.1385)" style="font-family:'Liberation Sans', Arial, sans-serif;font-size:9px;font-weight:normal;fill:#222;">24 h</text>
<text transform="translate(318.96 63.40) scale(0.9564 1.1077)" style="font-family:'Liberation Sans', Arial, sans-serif;font-size:9px;font-weight:normal;fill:#222;">48 h</text>
<text transform="translate(666.89 47.10) scale(1.0137 1.1385)" style="font-family:'Liberation Sans', Arial, sans-serif;font-size:9px;font-weight:normal;fill:#222;">24 h</text>
<text transform="translate(667.15 63.60) scale(0.9985 1.1538)" style="font-family:'Liberation Sans', Arial, sans-serif;font-size:9px;font-weight:normal;fill:#222;">48 h</text>
<text transform="translate(26.48 134.07) rotate(-90) scale(0.9928 0.9493)" style="font-family:'Liberation Sans', Arial, sans-serif;font-size:10px;font-weight:bold;fill:#111;stroke:#111;stroke-width:0.35px;">Cell Viability (%)</text>
<text transform="translate(376.42 135.48) rotate(-90) scale(1.0059 0.8853)" style="font-family:'Liberation Sans', Arial, sans-serif;font-size:10px;font-weight:bold;fill:#111;stroke:#111;stroke-width:0.35px;">Cell Viability (%)</text>
<text transform="translate(383.73 440.69) rotate(-90) scale(1.0227 1.0909)" style="font-family:'Liberation Sans', Arial, sans-serif;font-size:13px;font-weight:bold;fill:#111;stroke:#111;stroke-width:0.15px;">Number of Colonies</text>
<text transform="translate(134.19 212.20) scale(0.9685 1.0118)" style="font-family:'Liberation Sans', Arial, sans-serif;font-size:9px;font-weight:bold;fill:#111;stroke:#111;stroke-width:0.3px;">Doses (&#181;g/mL)</text>
<text transform="translate(485.37 212.20) scale(1.0061 1.0118)" style="font-family:'Liberation Sans', Arial, sans-serif;font-size:9px;font-weight:bold;fill:#111;stroke:#111;stroke-width:0.3px;">Doses (&#181;g/mL)</text>
<text transform="translate(58.61 267.89) scale(1.0578 0.8900)" style="font-family:'DejaVu Sans', Verdana, sans-serif;font-size:13px;font-weight:normal;fill:#1a1a1a;">Control</text>
<text transform="translate(197.27 268.40) scale(1.0094 0.8853)" style="font-family:'DejaVu Sans', Verdana, sans-serif;font-size:13px;font-weight:normal;fill:#1a1a1a;">VDNV</text>
<text transform="translate(284.86 333.70) scale(1.0387 0.9722)" style="font-family:'DejaVu Sans', Verdana, sans-serif;font-size:13px;font-weight:normal;fill:#1a1a1a;">24h</text>
<text transform="translate(285.45 456.09) scale(1.0391 0.8900)" style="font-family:'DejaVu Sans', Verdana, sans-serif;font-size:13px;font-weight:normal;fill:#1a1a1a;">48h</text>
<text transform="translate(450.70 480.70) scale(1.0667 0.8955)" style="font-family:'Liberation Sans', Arial, sans-serif;font-size:11.5px;font-weight:bold;fill:#111;">24h</text>
<text transform="translate(534.07 480.59) scale(1.0105 0.8824)" style="font-family:'Liberation Sans', Arial, sans-serif;font-size:11.5px;font-weight:bold;fill:#111;">48h</text>
<text transform="translate(641.28 311.67) scale(0.9955 1.0054)" style="font-family:'Liberation Sans', Arial, sans-serif;font-size:12.5px;font-weight:normal;fill:#111;">Control</text>
<text transform="translate(641.78 333.60) scale(0.9507 0.9739)" style="font-family:'Liberation Sans', Arial, sans-serif;font-size:12.5px;font-weight:normal;fill:#111;">VDNV</text>
<text transform="translate(469.40 381.70) scale(0.9631 1.0074)" style="font-family:'Liberation Sans', Arial, sans-serif;font-size:9px;font-weight:bold;fill:#111;letter-spacing:1.2px;">***</text>
<text transform="translate(550.20 417.76) scale(0.9864 0.8889)" style="font-family:'Liberation Sans', Arial, sans-serif;font-size:9px;font-weight:bold;fill:#111;letter-spacing:1.2px;">***</text>
<text transform="translate(411.69 464.98) scale(0.8186 0.9212)" style="font-family:'Liberation Sans', Arial, sans-serif;font-size:11.5px;font-weight:bold;fill:#111;">0</text>
<text transform="translate(397.93 432.10) scale(0.9905 0.9212)" style="font-family:'Liberation Sans', Arial, sans-serif;font-size:11.5px;font-weight:bold;fill:#111;">200</text>
<text transform="translate(398.18 399.22) scale(0.9772 0.9212)" style="font-family:'Liberation Sans', Arial, sans-serif;font-size:11.5px;font-weight:bold;fill:#111;">400</text>
<text transform="translate(397.93 366.34) scale(0.9905 0.9212)" style="font-family:'Liberation Sans', Arial, sans-serif;font-size:11.5px;font-weight:bold;fill:#111;">600</text>
<text transform="translate(397.93 333.46) scale(0.9905 0.9212)" style="font-family:'Liberation Sans', Arial, sans-serif;font-size:11.5px;font-weight:bold;fill:#111;">800</text>
<text transform="translate(391.35 300.58) scale(1.0010 0.9212)" style="font-family:'Liberation Sans', Arial, sans-serif;font-size:11.5px;font-weight:bold;fill:#111;">1000</text>
<text transform="translate(39.52 161.00) scale(1.0118 1.0039)" style="font-family:'Liberation Sans', Arial, sans-serif;font-size:9px;font-weight:bold;fill:#1a1a1a;stroke:#1a1a1a;stroke-width:0.25px;">0</text>
<text transform="translate(35.78 99.75) scale(0.8747 1.0039)" style="font-family:'Liberation Sans', Arial, sans-serif;font-size:9px;font-weight:bold;fill:#1a1a1a;stroke:#1a1a1a;stroke-width:0.25px;">50</text>
<text transform="translate(31.46 38.50) scale(0.8714 1.0039)" style="font-family:'Liberation Sans', Arial, sans-serif;font-size:9px;font-weight:bold;fill:#1a1a1a;stroke:#1a1a1a;stroke-width:0.25px;">100</text>
<text transform="translate(390.72 161.70) scale(1.0118 1.0039)" style="font-family:'Liberation Sans', Arial, sans-serif;font-size:9px;font-weight:bold;fill:#1a1a1a;stroke:#1a1a1a;stroke-width:0.25px;">0</text>
<text transform="translate(386.98 100.20) scale(0.8747 1.0039)" style="font-family:'Liberation Sans', Arial, sans-serif;font-size:9px;font-weight:bold;fill:#1a1a1a;stroke:#1a1a1a;stroke-width:0.25px;">50</text>
<text transform="translate(382.66 38.70) scale(0.8714 1.0039)" style="font-family:'Liberation Sans', Arial, sans-serif;font-size:9px;font-weight:bold;fill:#1a1a1a;stroke:#1a1a1a;stroke-width:0.25px;">100</text>
</svg>
</body></html>
